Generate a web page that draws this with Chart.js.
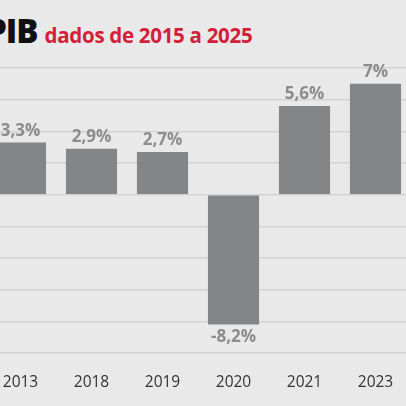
<!DOCTYPE html>
<html><head><meta charset="utf-8">
<script src="https://cdn.jsdelivr.net/npm/chart.js@4"></script>
<style>
body{margin:0;width:406px;height:406px;overflow:hidden;background:#e9e9e9;position:relative;font-family:"Open Sans",sans-serif}
#t{position:absolute;left:-14px;top:8px;white-space:nowrap;font-weight:bold}
#t b{font-size:33px;color:#111;letter-spacing:-1px}
#t span{font-size:20.5px;color:#d3203a;margin-left:7px;letter-spacing:-0.3px}
#w{position:absolute;left:-15.5px;top:0;width:497px;height:406px}
</style></head><body>
<div id="t"><b>PIB</b><span>dados de 2015 a 2025</span></div>
<div id="w"><canvas id="c"></canvas></div>
<script>
const years = ["2013","2018","2019","2020","2021","2023","2024"]
const pib = [3.3, 2.9, 2.7, -8.2, 5.6, 7, 6.8]
const valueLabels = ["3,3%","2,9%","2,7%","-8,2%","5,6%","7%",""]

const barLabels = {
    id:"barLabels",
    afterDatasetsDraw(chart){
        const ctx = chart.ctx
        ctx.save()
        ctx.font = "bold 17px 'Open Sans'"
        ctx.fillStyle = "#8c8c8c"
        ctx.textAlign = "center"
        chart.getDatasetMeta(0).data.forEach((bar,i)=>{
            if(pib[i] >= 0){ ctx.textBaseline = "bottom"; ctx.fillText(valueLabels[i], bar.x, bar.y - 3) }
            else { ctx.textBaseline = "top"; ctx.fillText(valueLabels[i], bar.x, bar.y + 4) }
        })
        ctx.restore()
    }
}

new Chart(document.getElementById("c"), {
    type:"bar",
    data:{ labels:years, datasets:[{ data:pib, backgroundColor:"#848587", categoryPercentage:1, barPercentage:0.72 }] },
    options:{
        responsive:true, maintainAspectRatio:false, animation:false,
        layout:{ padding:{ top:68, left:0, right:0, bottom:0 } },
        plugins:{ legend:{display:false}, tooltip:{enabled:false} },
        scales:{
            x:{
                grid:{display:false}, border:{display:false},
                ticks:{ color:"#333", font:{ size:15.5, family:"Open Sans" }, padding:12 },
                afterFit(s){ s.height = 53 }
            },
            y:{
                min:-10, max:8,
                ticks:{ stepSize:2, display:false },
                grid:{ color:"#d3d3d3", lineWidth:1.5, drawTicks:false },
                border:{display:false},
                afterFit(s){ s.width = 0 }
            }
        }
    },
    plugins:[barLabels]
})
</script>
</body></html>
